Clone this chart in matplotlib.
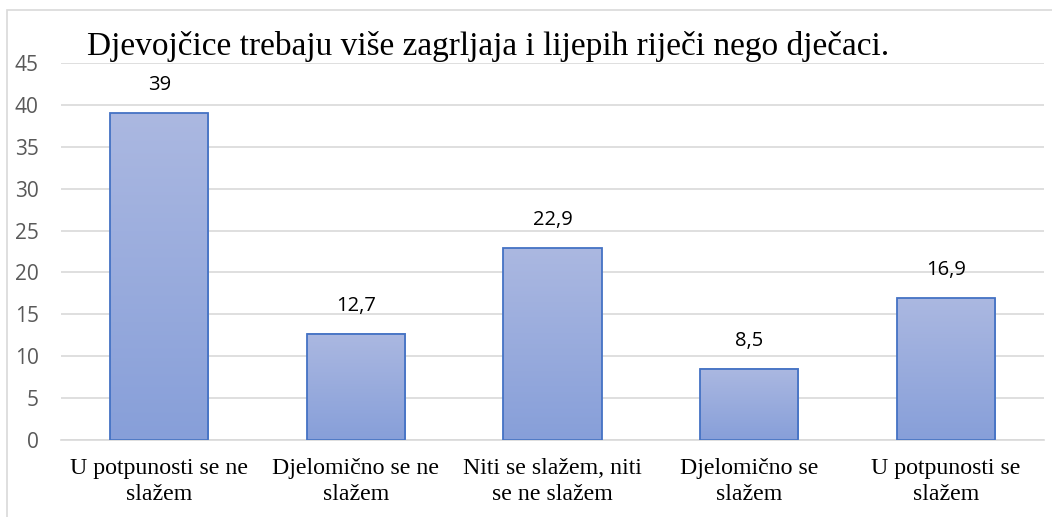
import matplotlib
matplotlib.use("Agg")
import matplotlib.pyplot as plt
import numpy as np
from matplotlib.patches import Rectangle

categories = ["U potpunosti se ne\nslažem", "Djelomično se ne\nslažem",
              "Niti se slažem, niti\nse ne slažem", "Djelomično se\nslažem",
              "U potpunosti se\nslažem"]
values = [39, 12.7, 22.9, 8.5, 16.9]
value_labels = ["39", "12,7", "22,9", "8,5", "16,9"]
title = "Djevojčice trebaju više zagrljaja i lijepih riječi nego dječaci."

fig = plt.figure(figsize=(10.52, 5.17), dpi=100)
ax = fig.add_axes([61/1052, 1-440/517, (1044-61)/1052, (440-63)/517])

# outer chart frame
fig.patches.append(Rectangle((7/1052, -0.1), 1.1, 1 - 10/517 + 0.1, transform=fig.transFigure,
                             fill=False, edgecolor="#d9d9d9", linewidth=1.2))

top_c = np.array([0xab, 0xb8, 0xe1]) / 255
bot_c = np.array([0x87, 0x9f, 0xd9]) / 255
grad = np.linspace(0, 1, 256)[:, None]
img = (top_c[None, None, :] * (1 - grad[:, :, None]) + bot_c[None, None, :] * grad[:, :, None])

width = 0.5
x = np.arange(len(values))
for xi, v, lab in zip(x, values, value_labels):
    ax.imshow(img, extent=[xi - width/2, xi + width/2, 0, v], aspect="auto", zorder=2,
              interpolation="bilinear")
    ax.add_patch(Rectangle((xi - width/2, 0), width, v, fill=False,
                           edgecolor="#4472c4", linewidth=1.3, zorder=3))
    ax.annotate(lab, (xi, v), xytext=(0, 13), textcoords="offset points",
                ha="center", va="bottom", fontsize=14.5, family="Open Sans", color="#000000")

ax.set_xlim(-0.5, len(values) - 0.5)
ax.set_ylim(0, 45)
ax.set_yticks(range(0, 46, 5))
ax.set_xticks(x)
ax.set_xticklabels(categories, family="Liberation Serif", fontsize=17.2, linespacing=1.28)
for t in ax.get_yticklabels():
    t.set_family("Open Sans")
ax.tick_params(axis="y", length=0, pad=16, labelsize=15, labelcolor="#595959")
ax.tick_params(axis="x", length=0, pad=13, labelcolor="#000000")
ax.grid(axis="y", color="#d9d9d9", linewidth=1.2, zorder=0)
ax.set_axisbelow(True)
for s in ["top", "right", "left"]:
    ax.spines[s].set_visible(False)
ax.spines["bottom"].set_color("#d9d9d9")
ax.spines["bottom"].set_linewidth(1.2)

fig.text(87/1052, 1 - 46/517, title, family="Liberation Serif", fontsize=24,
         ha="left", va="center", color="#000000")

fig.savefig("out.png", dpi=100)
